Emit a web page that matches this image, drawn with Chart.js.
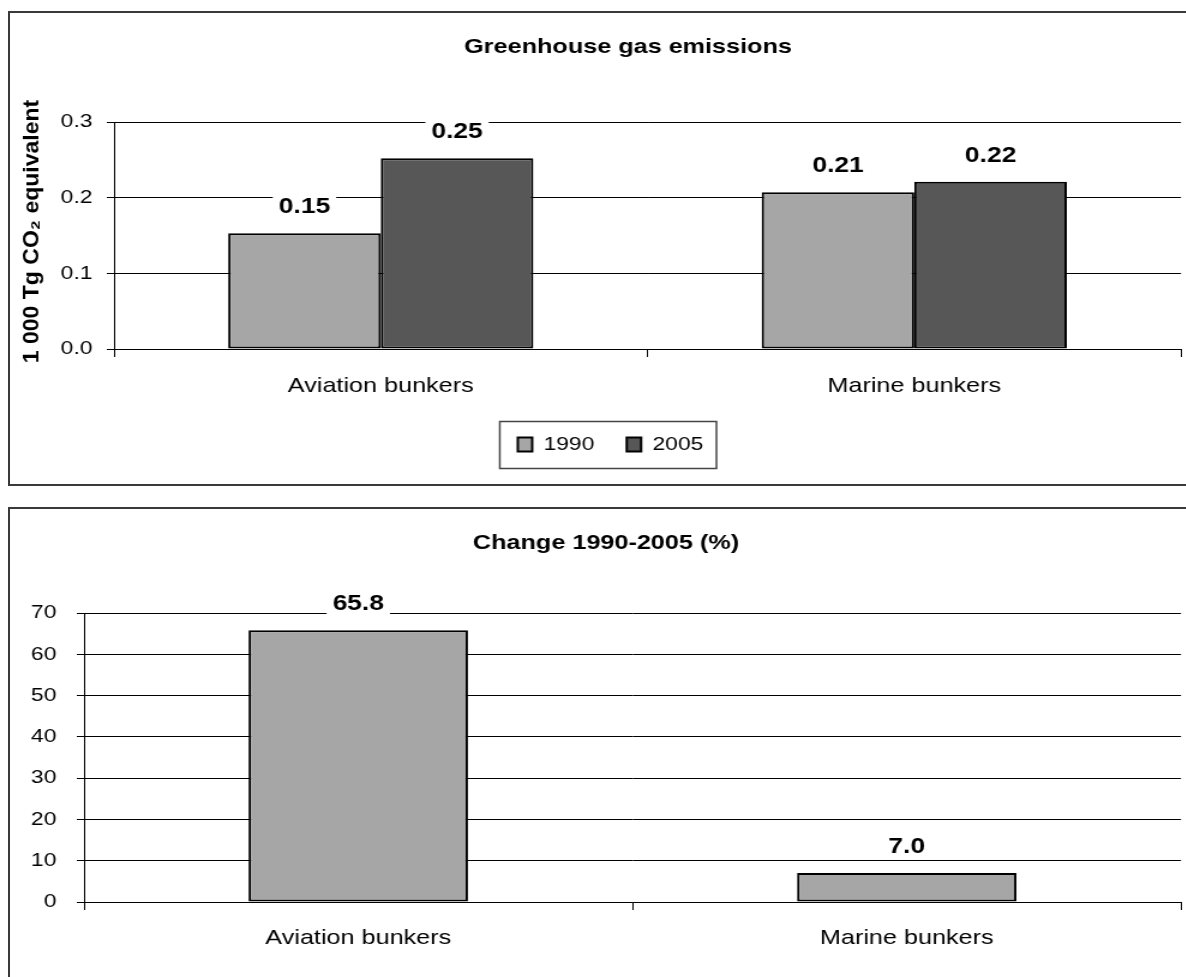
<!DOCTYPE html>
<html>
<head>
<meta charset="utf-8">
<script src="https://cdn.jsdelivr.net/npm/chart.js@4.4.1/dist/chart.umd.min.js"></script>
<style>
  html, body { margin:0; padding:0; background:#fff; overflow:hidden; width:1186px; height:977px; }
  .box { position:absolute; border:2px solid #3a3a3a; box-sizing:border-box; }
  .wrap { position:absolute; left:0; width:989px; transform:scaleX(1.2); transform-origin:0 0; }
</style>
</head>
<body>
<div class="box" style="left:8px; top:11px; width:1300px; height:475px;"></div>
<div class="box" style="left:8px; top:507px; width:1300px; height:600px;"></div>
<div class="wrap" style="top:0; height:486px;"><canvas id="c1" width="989" height="486"></canvas></div>
<div class="wrap" style="top:496px; height:481px;"><canvas id="c2" width="989" height="481"></canvas></div>
<script>
// ---------- data ----------
const categories = ['Aviation bunkers', 'Marine bunkers'];
const seriesNames = ['1990', '2005'];
const emissions1990 = [0.153, 0.207];
const emissions2005 = [0.252, 0.221];
const emissionTicks = [0, 0.1, 0.2, 0.3];
const changeValues = [65.8, 7.0];
const changeTicks = [0, 10, 20, 30, 40, 50, 60, 70];
const title1 = 'Greenhouse gas emissions';
const title2 = 'Change 1990-2005 (%)';
const yTitle1 = '1 000 Tg CO\u2082 equivalent';

// ---------- styling ----------
const K = 1.2; // horizontal stretch applied to the canvases
const FONT = '"Liberation Sans", Arial, Helvetica, sans-serif';
Chart.defaults.font.family = FONT;
Chart.defaults.color = '#000';
const LIGHT = '#a6a6a6';
const DARK = '#575757';

const valueLabels = {
  id: 'valueLabels',
  afterDatasetsDraw(chart, args, opts) {
    const ctx = chart.ctx;
    ctx.save();
    ctx.font = 'bold ' + opts.size + 'px ' + FONT;
    ctx.textAlign = 'center';
    ctx.textBaseline = 'middle';
    chart.data.datasets.forEach((ds, i) => {
      const meta = chart.getDatasetMeta(i);
      meta.data.forEach((bar, j) => {
        const txt = Number(ds.data[j]).toFixed(opts.decimals);
        const w = ctx.measureText(txt).width;
        const y = bar.y - opts.offset;
        ctx.fillStyle = '#fff';
        ctx.fillRect(bar.x - w / 2 - 5, y - 12, w + 10, 24);
        ctx.fillStyle = '#000';
        ctx.fillText(txt, bar.x, y + 1);
      });
    });
    ctx.restore();
  }
};

// axis title drawn upright-compensated so the horizontal stretch does not thicken it
const yTitle = {
  id: 'yTitle',
  afterDraw(chart, args, opts) {
    const t = chart.options.scales.y.title;
    if (!t || !t.text) return;
    const a = chart.chartArea;
    const ctx = chart.ctx;
    ctx.save();
    ctx.translate(opts.x, (a.top + a.bottom) / 2 + opts.dy);
    ctx.scale(1 / K, 1);
    ctx.rotate(-Math.PI / 2);
    ctx.font = 'bold ' + opts.size + 'px ' + FONT;
    ctx.textAlign = 'center';
    ctx.textBaseline = 'middle';
    ctx.fillStyle = '#000';
    ctx.fillText(t.text, 0, 0);
    ctx.restore();
  }
};

const placement = {
  id: 'placement',
  afterLayout(chart, args, opts) {
    const lg = chart.legend;
    if (lg && opts.legend) {
      const pad = lg.options.labels.padding;
      const ih = Math.max(lg.options.labels.boxHeight, lg.options.labels.font.size * 1.2);
      const dx = opts.legendX - (lg.left + lg.right) / 2;
      const dy = opts.legendY - (lg.top + pad + ih / 2);
      lg.left += dx; lg.right += dx; lg.top += dy; lg.bottom += dy;
    }
    const t = chart.titleBlock;
    if (t && opts.titleX) {
      const dx = opts.titleX - (t.left + t.right) / 2;
      t.left += dx; t.right += dx;
    }
  },
  afterDraw(chart, args, opts) {
    const lg = chart.legend;
    if (!lg || !opts.legend || !lg.legendHitBoxes || !lg.legendHitBoxes.length) return;
    const hb = lg.legendHitBoxes;
    const l = Math.min(...hb.map(b => b.left)) - 15;
    const r = Math.max(...hb.map(b => b.left + b.width)) + 11;
    const cy = hb[0].top + hb[0].height / 2;
    const ctx = chart.ctx;
    ctx.save();
    ctx.strokeStyle = '#444';
    ctx.lineWidth = 1.5;
    ctx.strokeRect(l, Math.round(cy - 23.5) + 0.5, r - l, 47);
    ctx.restore();
  }
};

function xAxis(heightFn, pad) {
  return {
    type: 'category',
    offset: true,
    grid: { offset: true, drawOnChartArea: false, drawTicks: true, tickLength: 8, color: '#000', lineWidth: 1 },
    border: { display: true, color: '#000', width: 1 },
    ticks: { color: '#000', font: { size: 21, family: FONT }, padding: pad, maxRotation: 0, autoSkip: false },
    afterFit: s => { s.height = heightFn(s); }
  };
}

function yAxis(min, max, tickList, fmt, width, pad, title) {
  return {
    min: min, max: max,
    afterBuildTicks: s => { s.ticks = tickList.map(v => ({ value: v })); },
    grid: { color: '#000', lineWidth: 1, drawTicks: true, tickLength: 6 },
    border: { display: true, color: '#000', width: 1 },
    ticks: { color: '#000', font: { size: 19, family: FONT }, padding: pad, callback: fmt },
    title: { display: false, text: title || '' },
    afterFit: s => { s.width = width; }
  };
}

// ---------- chart 1 ----------
new Chart(document.getElementById('c1'), {
  type: 'bar',
  data: {
    labels: categories,
    datasets: [
      { label: seriesNames[0], data: emissions1990, backgroundColor: LIGHT, borderColor: '#000', borderWidth: 2, borderSkipped: false, categoryPercentage: 0.572, barPercentage: 1 },
      { label: seriesNames[1], data: emissions2005, backgroundColor: DARK, borderColor: '#000', borderWidth: 2, borderSkipped: false, categoryPercentage: 0.572, barPercentage: 1 }
    ]
  },
  options: {
    responsive: false,
    devicePixelRatio: 1,
    animation: false,
    layout: { padding: { top: 12, left: 12, right: 4.83, bottom: 0 } },
    scales: {
      x: xAxis(s => 486 - 349 - (s.chart.legend ? s.chart.legend.height : 0), 17),
      y: yAxis(0, 0.3, emissionTicks, v => Number(v).toFixed(1), 114 / K - 12, 12, yTitle1)
    },
    plugins: {
      title: { display: true, text: title1, color: '#000', font: { size: 21, weight: 'bold', family: FONT }, padding: { top: 22.4, bottom: 62.4 } },
      legend: { display: true, position: 'bottom', labels: { color: '#000', font: { size: 19, family: FONT }, boxWidth: 12, boxHeight: 14, padding: 27 } },
      tooltip: { enabled: false },
      valueLabels: { decimals: 2, offset: 27, size: 22 },
      yTitle: { x: 32 / K, dy: -4, size: 23 },
      placement: { legend: true, legendX: 610.5 / K, legendY: 446.5, titleX: 628 / K }
    }
  },
  plugins: [valueLabels, yTitle, placement]
});

// ---------- chart 2 ----------
new Chart(document.getElementById('c2'), {
  type: 'bar',
  data: {
    labels: categories,
    datasets: [
      { label: 'Change', data: changeValues, backgroundColor: LIGHT, borderColor: '#000', borderWidth: 2, borderSkipped: false, categoryPercentage: 0.4, barPercentage: 1 }
    ]
  },
  options: {
    responsive: false,
    devicePixelRatio: 1,
    animation: false,
    layout: { padding: { top: 12, left: 12, right: 4.83, bottom: 0 } },
    scales: {
      x: xAxis(s => 481 - 406, 16),
      y: yAxis(0, 70, changeTicks, v => String(v), 84 / K - 12, 17, null)
    },
    plugins: {
      title: { display: true, text: title2, color: '#000', font: { size: 21, weight: 'bold', family: FONT }, padding: { top: 22.4, bottom: 57.4 } },
      legend: { display: false },
      tooltip: { enabled: false },
      valueLabels: { decimals: 1, offset: 27, size: 22 },
      yTitle: { x: 0, dy: 0, size: 23 },
      placement: { legend: false, titleX: 606 / K }
    }
  },
  plugins: [valueLabels, yTitle, placement]
});
</script>
</body>
</html>
